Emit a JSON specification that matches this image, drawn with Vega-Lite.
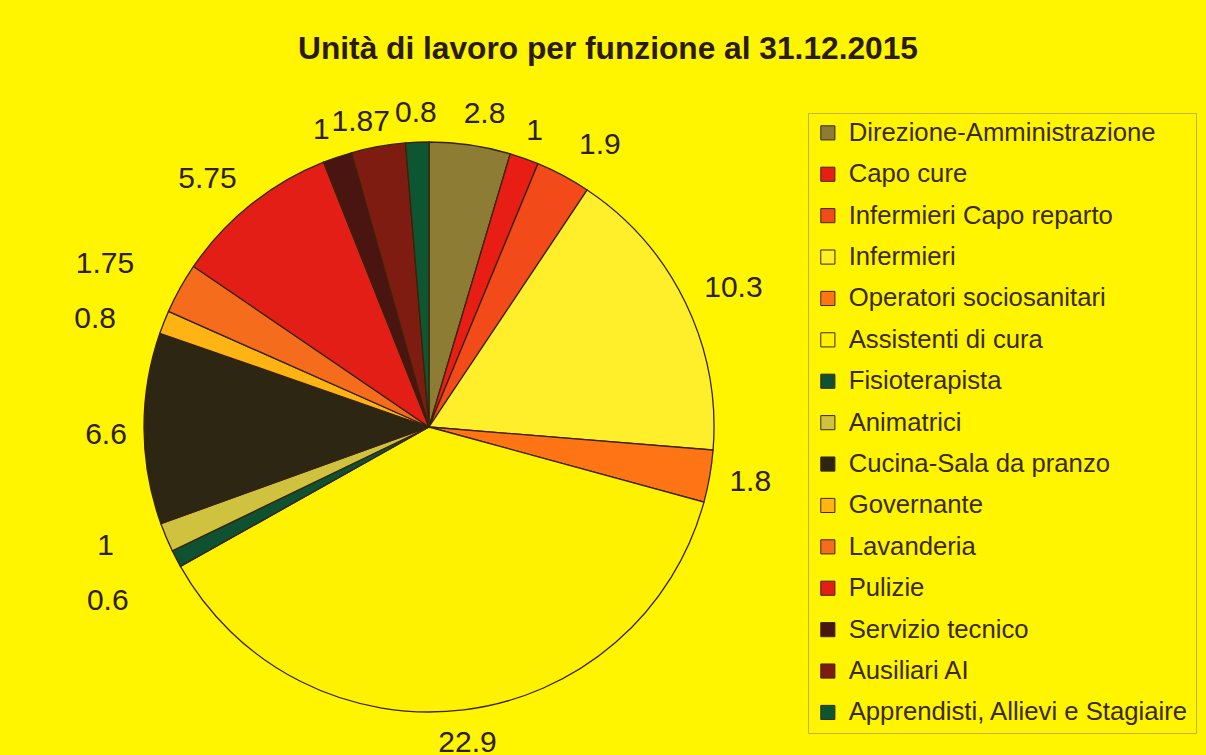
{
  "$schema": "https://vega.github.io/schema/vega-lite/v6.json",
  "width": 600,
  "height": 600,
  "autosize": {"type": "none"},
  "padding": {"left": 129, "top": 127, "right": 477, "bottom": 28},
  "background": "#FFF500",
  "title": {
    "text": "Unità di lavoro per funzione al 31.12.2015",
    "font": "Liberation Sans",
    "fontSize": 31.7,
    "fontWeight": "bold",
    "color": "#2a1c08",
    "anchor": "middle",
    "frame": "group",
    "dx": 179,
    "offset": 22
  },
  "data": {
    "values": [
      {"funzione": "Direzione-Amministrazione", "value": 2.8},
      {"funzione": "Capo cure", "value": 1},
      {"funzione": "Infermieri Capo reparto", "value": 1.9},
      {"funzione": "Infermieri", "value": 10.3},
      {"funzione": "Operatori sociosanitari", "value": 1.8},
      {"funzione": "Assistenti di cura", "value": 22.9},
      {"funzione": "Fisioterapista", "value": 0.6},
      {"funzione": "Animatrici", "value": 1},
      {"funzione": "Cucina-Sala da pranzo", "value": 6.6},
      {"funzione": "Governante", "value": 0.8},
      {"funzione": "Lavanderia", "value": 1.75},
      {"funzione": "Pulizie", "value": 5.75},
      {"funzione": "Servizio tecnico", "value": 1},
      {"funzione": "Ausiliari AI", "value": 1.87},
      {"funzione": "Apprendisti, Allievi e Stagiaire", "value": 0.8}
    ]
  },
  "transform": [{"window": [{"op": "row_number", "as": "ord"}]}],
  "encoding": {
    "theta": {"field": "value", "type": "quantitative", "stack": true},
    "order": {"field": "ord", "type": "quantitative"}
  },
  "layer": [
    {
      "mark": {"type": "arc", "outerRadius": 285, "stroke": "#3a2208", "strokeWidth": 1.3},
      "encoding": {
        "color": {
          "field": "funzione",
          "type": "nominal",
          "sort": null,
          "scale": {
            "domain": ["Direzione-Amministrazione", "Capo cure", "Infermieri Capo reparto", "Infermieri", "Operatori sociosanitari", "Assistenti di cura", "Fisioterapista", "Animatrici", "Cucina-Sala da pranzo", "Governante", "Lavanderia", "Pulizie", "Servizio tecnico", "Ausiliari AI", "Apprendisti, Allievi e Stagiaire"],
            "range": ["#8C7C34", "#E81E14", "#F24A18", "#FFEE2A", "#FF7414", "#FFF200", "#0E5232", "#CEC23E", "#2C2612", "#FFB414", "#F46C1C", "#E21E16", "#4A1410", "#7E1C12", "#0E5632"]
          },
          "legend": {
            "orient": "none",
            "legendX": 679,
            "legendY": -14,
            "title": null,
            "labelFont": "Liberation Sans",
            "labelFontSize": 25.7,
            "labelColor": "#3a2a08",
            "labelLimit": 500,
            "symbolType": "square",
            "symbolSize": 200,
            "symbolStrokeColor": "#3a2a08",
            "symbolStrokeWidth": 1,
            "rowPadding": 14.4,
            "labelOffset": 8,
            "padding": 7,
            "strokeColor": "#c4b438",
            "fillColor": "#FFF500"
          }
        }
      }
    },
    {
      "mark": {"type": "text", "radius": 316, "dy": 2},
      "encoding": {"text": {"condition": {"test": "indexof(['Capo cure','Assistenti di cura','Apprendisti, Allievi e Stagiaire'], datum.funzione) >= 0", "field": "value", "type": "nominal"}, "value": ""}}
    },
    {
      "mark": {"type": "text", "radius": 316, "dx": -6, "dy": 2},
      "encoding": {"text": {"condition": {"test": "datum.funzione === 'Servizio tecnico'", "field": "value", "type": "nominal"}, "value": ""}}
    },
    {
      "mark": {"type": "text", "radius": 316, "dx": 10, "dy": 0},
      "encoding": {"text": {"condition": {"test": "datum.funzione === 'Direzione-Amministrazione'", "field": "value", "type": "nominal"}, "value": ""}}
    },
    {
      "mark": {"type": "text", "radius": 316, "dx": 22, "dy": -3},
      "encoding": {"text": {"condition": {"test": "datum.funzione === 'Infermieri Capo reparto'", "field": "value", "type": "nominal"}, "value": ""}}
    },
    {
      "mark": {"type": "text", "radius": 316, "dx": 20, "dy": -1},
      "encoding": {"text": {"condition": {"test": "datum.funzione === 'Infermieri'", "field": "value", "type": "nominal"}, "value": ""}}
    },
    {
      "mark": {"type": "text", "radius": 316, "dx": 10, "dy": 0},
      "encoding": {"text": {"condition": {"test": "datum.funzione === 'Operatori sociosanitari'", "field": "value", "type": "nominal"}, "value": ""}}
    },
    {
      "mark": {"type": "text", "radius": 316, "dx": -7, "dy": 6},
      "encoding": {"text": {"condition": {"test": "datum.funzione === 'Cucina-Sala da pranzo'", "field": "value", "type": "nominal"}, "value": ""}}
    },
    {
      "mark": {"type": "text", "radius": 316, "dx": -24, "dy": -1},
      "encoding": {"text": {"condition": {"test": "datum.funzione === 'Pulizie'", "field": "value", "type": "nominal"}, "value": ""}}
    },
    {
      "mark": {"type": "text", "radius": 316, "dx": -12, "dy": 6},
      "encoding": {"text": {"condition": {"test": "datum.funzione === 'Ausiliari AI'", "field": "value", "type": "nominal"}, "value": ""}}
    },
    {
      "mark": {"type": "text", "radius": 316, "dx": -41, "dy": 28},
      "encoding": {"text": {"condition": {"test": "datum.funzione === 'Fisioterapista'", "field": "value", "type": "nominal"}, "value": ""}}
    },
    {
      "mark": {"type": "text", "radius": 316, "dx": -32, "dy": -3},
      "encoding": {"text": {"condition": {"test": "datum.funzione === 'Animatrici'", "field": "value", "type": "nominal"}, "value": ""}}
    },
    {
      "mark": {"type": "text", "radius": 316, "dx": -40, "dy": 8},
      "encoding": {"text": {"condition": {"test": "datum.funzione === 'Governante'", "field": "value", "type": "nominal"}, "value": ""}}
    },
    {
      "mark": {"type": "text", "radius": 316, "dx": -48, "dy": -9},
      "encoding": {"text": {"condition": {"test": "datum.funzione === 'Lavanderia'", "field": "value", "type": "nominal"}, "value": ""}}
    }
  ],
  "config": {
    "view": {"stroke": null},
    "text": {"font": "Liberation Sans", "fontSize": 30, "color": "#2e2008"}
  }
}
